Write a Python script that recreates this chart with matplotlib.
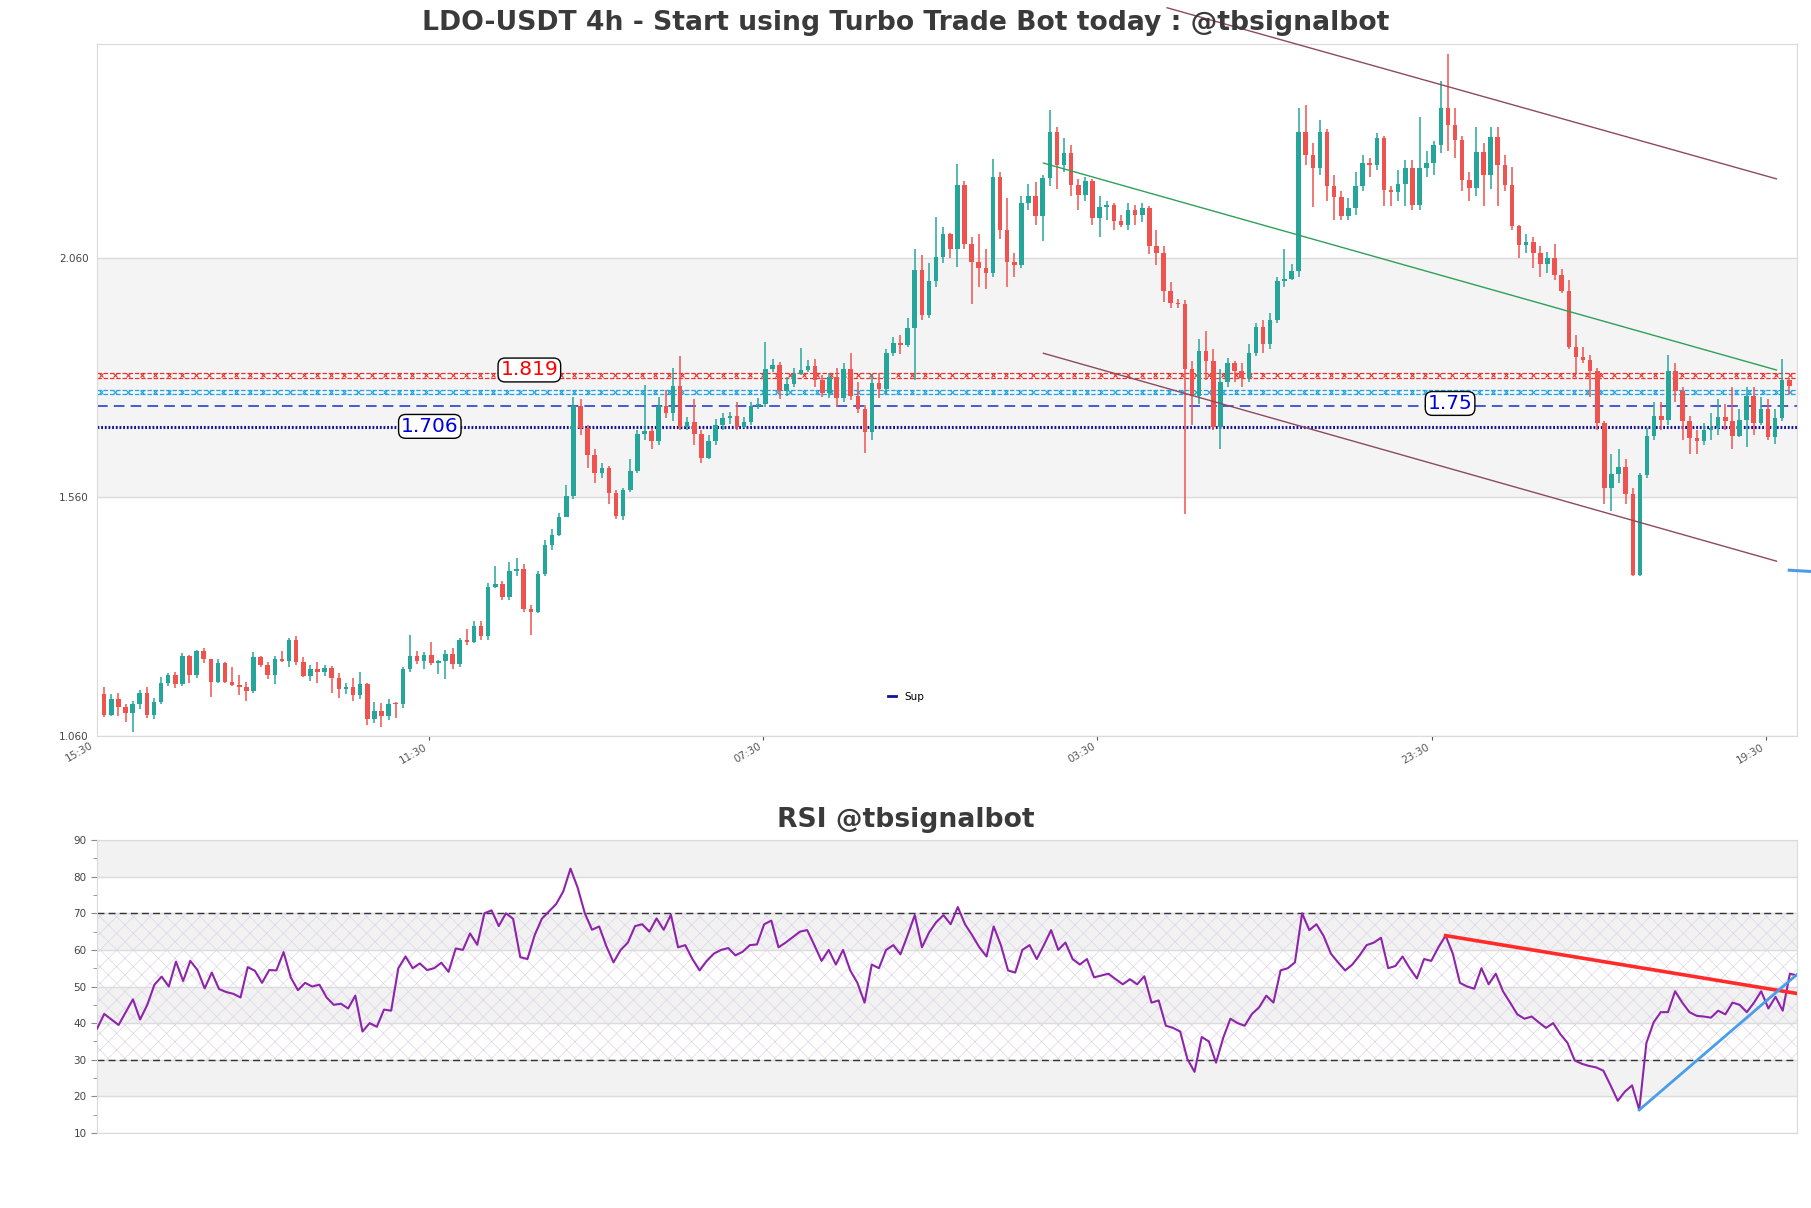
import matplotlib
matplotlib.use('Agg')
import matplotlib.pyplot as plt
from matplotlib.lines import Line2D
from matplotlib.ticker import FormatStrFormatter, MultipleLocator
import numpy as np

# ---------------- data ----------------
opens = [
1.149,1.104,1.137,1.120,1.109,1.128,1.150,1.104,1.132,1.171,
1.188,1.168,1.228,1.188,1.237,1.222,1.174,1.212,1.174,1.167,
1.162,1.154,1.225,1.209,1.188,1.222,1.218,1.262,1.214,1.186,
1.200,1.193,1.203,1.181,1.159,1.162,1.146,1.168,1.096,1.113,
1.102,1.128,1.126,1.200,1.228,1.216,1.230,1.212,1.216,1.232,
1.210,1.260,1.257,1.290,1.269,1.372,1.378,1.351,1.405,1.410,
1.325,1.320,1.400,1.459,1.480,1.518,1.562,1.751,1.705,1.649,
1.611,1.621,1.568,1.521,1.574,1.615,1.693,1.699,1.677,1.751,
1.736,1.793,1.707,1.718,1.693,1.641,1.678,1.711,1.725,1.730,
1.707,1.718,1.751,1.755,1.828,1.837,1.781,1.797,1.817,1.826,
1.835,1.805,1.777,1.811,1.767,1.828,1.772,1.744,1.697,1.798,
1.787,1.861,1.882,1.878,1.914,2.036,1.942,2.013,2.062,2.110,
2.079,2.213,2.090,2.052,2.040,2.030,2.230,2.120,2.052,2.045,
2.176,2.191,2.148,2.227,2.325,2.254,2.281,2.213,2.193,2.221,
2.144,2.167,2.172,2.137,2.130,2.160,2.150,2.165,2.085,2.070,
1.992,1.967,1.964,1.828,1.772,1.865,1.845,1.707,1.800,1.840,
1.824,1.809,1.861,1.917,1.880,1.930,2.012,2.017,2.034,2.325,
2.275,2.249,2.324,2.211,2.188,2.148,2.165,2.211,2.260,2.256,
2.312,2.202,2.199,2.216,2.249,2.172,2.249,2.260,2.296,2.375,
2.338,2.307,2.223,2.207,2.282,2.235,2.314,2.254,2.213,2.127,
2.088,2.093,2.071,2.048,2.060,2.024,1.992,1.875,1.854,1.847,
1.823,1.716,1.580,1.608,1.622,1.566,1.398,1.606,1.688,1.730,
1.722,1.823,1.781,1.720,1.683,1.677,1.700,1.705,1.727,1.720,
1.688,1.721,1.772,1.716,1.744,1.686,1.725,1.805]

highs = [
1.163,1.148,1.150,1.126,1.134,1.157,1.163,1.140,1.183,1.192,
1.195,1.233,1.230,1.240,1.245,1.222,1.222,1.214,1.204,1.188,
1.173,1.235,1.228,1.215,1.228,1.238,1.265,1.270,1.225,1.208,
1.215,1.209,1.206,1.192,1.172,1.181,1.194,1.171,1.132,1.130,
1.138,1.132,1.205,1.272,1.238,1.235,1.257,1.220,1.240,1.245,
1.266,1.285,1.300,1.300,1.380,1.415,1.385,1.425,1.432,1.420,
1.335,1.405,1.470,1.494,1.526,1.585,1.770,1.765,1.710,1.660,
1.632,1.625,1.575,1.580,1.640,1.700,1.794,1.705,1.770,1.785,
1.830,1.856,1.728,1.765,1.700,1.690,1.724,1.735,1.738,1.760,
1.728,1.760,1.768,1.884,1.850,1.842,1.812,1.830,1.873,1.846,
1.848,1.815,1.820,1.830,1.840,1.862,1.800,1.752,1.818,1.820,
1.870,1.895,1.900,1.934,2.080,2.067,2.050,2.146,2.125,2.112,
2.258,2.221,2.105,2.110,2.080,2.268,2.240,2.185,2.070,2.190,
2.215,2.220,2.235,2.370,2.335,2.311,2.296,2.225,2.230,2.225,
2.190,2.180,2.175,2.150,2.175,2.172,2.175,2.170,2.120,2.085,
2.010,1.975,1.972,1.845,1.890,1.908,1.870,1.828,1.852,1.845,
1.840,1.880,1.925,1.930,1.945,2.020,2.080,2.048,2.375,2.380,
2.300,2.350,2.330,2.235,2.200,2.185,2.240,2.275,2.270,2.322,
2.315,2.212,2.245,2.265,2.265,2.355,2.285,2.306,2.431,2.487,
2.375,2.315,2.240,2.334,2.300,2.334,2.334,2.275,2.250,2.130,
2.110,2.105,2.085,2.072,2.090,2.037,2.015,1.900,1.875,1.858,
1.830,1.720,1.650,1.660,1.640,1.580,1.610,1.705,1.760,1.760,
1.858,1.840,1.790,1.730,1.700,1.715,1.735,1.765,1.755,1.790,
1.745,1.790,1.790,1.770,1.765,1.745,1.850,1.810]

lows = [
1.099,1.101,1.101,1.089,1.069,1.116,1.098,1.096,1.128,1.164,
1.161,1.165,1.170,1.181,1.212,1.142,1.170,1.170,1.164,1.146,
1.133,1.150,1.205,1.179,1.168,1.215,1.204,1.208,1.184,1.176,
1.172,1.185,1.150,1.140,1.148,1.133,1.137,1.084,1.087,1.078,
1.094,1.098,1.118,1.195,1.210,1.200,1.208,1.190,1.180,1.200,
1.205,1.250,1.255,1.260,1.262,1.370,1.345,1.345,1.395,1.320,
1.272,1.318,1.395,1.450,1.478,1.530,1.555,1.690,1.620,1.590,
1.600,1.545,1.515,1.512,1.570,1.610,1.680,1.660,1.668,1.725,
1.720,1.700,1.700,1.670,1.632,1.640,1.670,1.700,1.712,1.700,
1.705,1.710,1.745,1.748,1.822,1.765,1.772,1.790,1.815,1.822,
1.790,1.770,1.768,1.748,1.760,1.764,1.735,1.652,1.680,1.768,
1.775,1.855,1.860,1.875,1.805,1.930,1.935,2.000,2.050,2.060,
2.041,2.080,1.964,2.000,1.995,2.020,2.100,2.000,2.020,2.040,
2.160,2.130,2.095,2.210,2.205,2.240,2.190,2.160,2.180,2.130,
2.105,2.140,2.118,2.125,2.120,2.130,2.135,2.068,2.045,1.968,
1.955,1.955,1.524,1.710,1.755,1.805,1.700,1.660,1.790,1.800,
1.790,1.800,1.855,1.862,1.870,1.925,2.000,2.015,2.020,2.255,
2.167,2.235,2.180,2.140,2.140,2.140,2.150,2.200,2.230,2.245,
2.170,2.170,2.180,2.170,2.160,2.160,2.230,2.235,2.280,2.285,
2.270,2.200,2.180,2.190,2.170,2.205,2.170,2.200,2.120,2.060,
2.070,2.040,2.020,2.030,2.015,1.988,1.870,1.820,1.840,1.770,
1.700,1.545,1.530,1.590,1.545,1.395,1.395,1.600,1.680,1.700,
1.710,1.760,1.680,1.650,1.650,1.670,1.680,1.690,1.700,1.660,
1.685,1.665,1.690,1.710,1.680,1.672,1.720,1.775]

closes = [
1.104,1.137,1.120,1.109,1.128,1.150,1.104,1.132,1.171,1.188,
1.168,1.228,1.188,1.237,1.222,1.174,1.212,1.174,1.167,1.162,
1.154,1.225,1.209,1.188,1.222,1.218,1.262,1.214,1.186,1.200,
1.193,1.203,1.181,1.159,1.162,1.146,1.168,1.096,1.113,1.102,
1.128,1.126,1.200,1.228,1.216,1.230,1.212,1.216,1.232,1.210,
1.260,1.257,1.290,1.269,1.372,1.378,1.351,1.405,1.410,1.325,
1.320,1.400,1.459,1.480,1.518,1.562,1.751,1.705,1.649,1.611,
1.621,1.568,1.521,1.574,1.615,1.693,1.699,1.677,1.751,1.736,
1.793,1.707,1.718,1.693,1.641,1.678,1.711,1.725,1.730,1.707,
1.718,1.751,1.755,1.828,1.837,1.781,1.797,1.817,1.826,1.835,
1.805,1.777,1.811,1.767,1.828,1.772,1.744,1.697,1.798,1.787,
1.861,1.882,1.878,1.914,2.036,1.942,2.013,2.062,2.110,2.079,
2.213,2.090,2.052,2.040,2.030,2.230,2.120,2.052,2.045,2.176,
2.191,2.148,2.227,2.325,2.254,2.281,2.213,2.193,2.221,2.144,
2.167,2.172,2.137,2.130,2.160,2.150,2.165,2.085,2.070,1.992,
1.967,1.964,1.828,1.772,1.865,1.845,1.707,1.800,1.840,1.824,
1.809,1.861,1.917,1.880,1.930,2.012,2.017,2.034,2.325,2.275,
2.249,2.324,2.211,2.188,2.148,2.165,2.211,2.260,2.256,2.312,
2.202,2.199,2.216,2.249,2.172,2.249,2.260,2.296,2.375,2.338,
2.307,2.223,2.207,2.282,2.235,2.314,2.254,2.213,2.127,2.088,
2.093,2.071,2.048,2.060,2.024,1.992,1.875,1.854,1.847,1.823,
1.716,1.580,1.608,1.622,1.566,1.398,1.606,1.688,1.730,1.722,
1.823,1.781,1.720,1.683,1.677,1.700,1.705,1.727,1.720,1.688,
1.721,1.772,1.716,1.744,1.686,1.725,1.805,1.793]

rsi = [
38.5,42.5,41.0,39.5,43.0,46.5,41.0,45.0,50.5,52.7,
50.0,56.8,51.5,57.0,54.5,49.5,53.8,49.3,48.5,48.0,
47.0,55.3,54.3,51.0,54.5,54.4,59.4,52.5,49.0,51.0,
50.0,50.5,47.0,45.0,45.3,44.0,47.5,37.7,40.0,39.0,
43.7,43.4,55.0,58.2,55.0,56.3,54.5,55.0,56.5,54.0,
60.4,60.0,64.5,61.4,70.0,70.8,66.5,70.0,68.5,58.0,
57.5,64.0,68.5,70.5,72.5,76.0,82.2,77.0,70.0,65.5,
66.4,61.0,56.6,60.0,62.0,66.5,67.0,65.0,68.6,65.5,
69.6,60.7,61.3,57.5,54.4,57.0,59.0,60.0,60.5,58.5,
59.5,61.3,61.5,67.0,68.0,60.7,62.0,63.5,65.0,65.4,
61.3,57.0,60.0,56.0,60.0,54.4,51.0,45.6,56.0,55.0,
60.0,61.3,58.8,64.0,69.5,60.7,64.8,67.6,69.5,67.0,
71.7,67.0,64.0,60.7,58.2,66.4,61.3,54.4,53.8,60.0,
61.3,57.5,61.3,65.4,60.0,62.0,57.5,56.0,57.5,52.5,
53.0,53.5,52.0,50.6,52.0,50.6,52.8,45.6,46.2,39.3,
38.7,37.7,30.2,26.7,36.2,35.0,29.2,36.0,41.2,40.0,
39.3,42.5,44.3,47.5,45.6,54.4,55.0,56.6,70.0,65.4,
67.0,63.8,59.0,56.6,54.4,56.0,58.5,61.3,62.0,63.3,
55.0,55.6,58.2,55.0,52.2,57.5,57.0,60.7,63.9,59.0,
51.0,50.0,49.4,55.0,50.6,53.5,48.7,45.6,42.4,41.2,
41.8,40.2,38.7,40.0,37.0,34.6,29.8,28.9,28.3,27.9,
27.0,23.0,18.8,21.3,23.0,16.3,34.6,40.2,43.0,43.0,
48.7,45.6,43.0,42.0,41.8,41.5,43.4,42.4,45.6,45.0,
43.0,45.6,48.7,44.0,47.2,43.4,53.5,53.0]

tick_labels = ['15:30', '11:30', '07:30', '03:30', '23:30', '19:30']
tick_pos = [-1.3, 45.7, 92.7, 139.7, 186.7, 233.7]

res_red = [1.809, 1.820]
res_cyan = [1.776, 1.784]
sup_dash = 1.75
sup_dot = 1.706
label_red = (59.8, 1.826, '1.819')
label_dot = (45.8, 1.708, '1.706')
label_dash = (189.3, 1.756, '1.75')

upper_ch_x = [149.5, 235.2]; upper_ch_y = [2.584, 2.226]
mid_ch_x = [132.1, 235.2]; mid_ch_y = [2.259, 1.826]
lower_ch_x = [132.1, 235.2]; lower_ch_y = [1.861, 1.426]
proj_x = [237.0, 240.5]; proj_y = [1.407, 1.404]

rsi_res_x = [188, 237]; rsi_res_y = [63.9, 48.1]
rsi_sup_x = [215, 237]; rsi_sup_y = [16.3, 53.3]

# ---------------- figure ----------------
plt.rcParams['hatch.linewidth'] = 0.5
fig = plt.figure(figsize=(18.11, 12.08), dpi=100)
ax = fig.add_axes([0.0536, 0.3907, 0.9387, 0.5728])
ax2 = fig.add_axes([0.0536, 0.0621, 0.9387, 0.2425])

n = len(closes)
x = np.arange(n)
o = np.array(opens); c = np.array(closes); h = np.array(highs); l = np.array(lows)
up = c >= o
col = np.where(up, '#26a69a', '#ef5350')

XL = (-1.0, 238.1)
ax.set_xlim(*XL)
ax.set_ylim(1.06, 2.508)
ax.axhspan(1.56, 2.06, color='#f4f4f4', zorder=0)
ax.yaxis.grid(True, color='#dcdcdc', lw=1, zorder=0.5)
ax.set_axisbelow(True)

ax.vlines(x, l, h, colors=col, linewidth=1.1, zorder=3)
ax.bar(x, np.maximum(np.abs(c - o), 0.003), bottom=np.minimum(o, c), width=0.64,
       color=col, linewidth=0, zorder=4)

# level lines
xm = np.arange(XL[0] + 0.6, XL[1], 1.9)
for pair, colr in [(res_red, '#e8342f'), (res_cyan, '#1fa3e0')]:
    for yv in pair:
        ax.plot(XL, [yv, yv], color=colr, lw=0.9, ls=(0, (3.5, 1.5)), zorder=2)
    mid = sum(pair) / 2
    ax.plot(xm, [mid] * len(xm), ls='none', marker='x', ms=3.5, mew=0.8, color=colr, zorder=2)
ax.plot(XL, [sup_dash, sup_dash], color='#1a2fc8', lw=1.1, ls=(0, (7, 4)), zorder=2)
ax.plot(XL, [sup_dot, sup_dot], color='#12129e', lw=2.2, ls=(0, (0.6, 0.6)), zorder=2)

bb = dict(boxstyle='round,pad=0.12,rounding_size=0.35', fc='white', ec='black', lw=1)
ax.text(label_red[0], label_red[1], label_red[2], color='red', fontsize=14.5, ha='center', va='center', bbox=bb, zorder=6)
ax.text(label_dot[0], label_dot[1], label_dot[2], color='#0000dd', fontsize=14.5, ha='center', va='center', bbox=bb, zorder=6)
ax.text(label_dash[0], label_dash[1], label_dash[2], color='#0000dd', fontsize=14.5, ha='center', va='center', bbox=bb, zorder=6)

# trend lines
ax.plot(upper_ch_x, upper_ch_y, color='#8d4a5e', lw=1.0, clip_on=False, zorder=5)
ax.plot(mid_ch_x, mid_ch_y, color='#2ea05a', lw=1.0, zorder=5)
ax.plot(lower_ch_x, lower_ch_y, color='#8d4a5e', lw=1.0, zorder=5)
ax.plot(proj_x, proj_y, color='#4d9be6', lw=2.2, clip_on=False, zorder=5)

ax.legend(handles=[Line2D([], [], color='#12129e', lw=2)], labels=['Sup'], loc='center',
          bbox_to_anchor=(0.476, 0.057), frameon=False, fontsize=7.5, handlelength=0.8)

ax.set_yticks([1.06, 1.56, 2.06])
ax.yaxis.set_major_formatter(FormatStrFormatter('%.3f'))
ax.tick_params(axis='y', length=0, labelsize=7.5, labelcolor='#444444', pad=6)
ax.set_xticks(tick_pos[1:])
ax.set_xticklabels(tick_labels[1:], rotation=30, ha='right', fontsize=7.5, color='#555555')
ax.tick_params(axis='x', length=3, color='#555555', pad=1)
ax.text(tick_pos[0], -0.006, tick_labels[0], transform=ax.get_xaxis_transform(), rotation=30,
        ha='right', va='top', fontsize=7.5, color='#555555', clip_on=False)
for s in ax.spines.values():
    s.set_color('#dadada')

# ---------------- RSI ----------------
ax2.set_xlim(0, n - 1)
ax2.set_ylim(10, 90)
for a, b in [(20, 30), (40, 50), (60, 70), (80, 90)]:
    ax2.axhspan(a, b, color='#f2f2f2', zorder=0)
ax2.fill_between([0, n - 1], 30, 70, facecolor='none', hatch='xx', edgecolor='#ddd5e6', lw=0, zorder=0.3)
ax2.yaxis.grid(True, color='#dcdcdc', lw=1, zorder=0.5)
ax2.set_axisbelow(True)
ax2.axhline(30, color='#333333', lw=1, ls=(0, (5, 3)), zorder=2)
ax2.axhline(70, color='#333333', lw=1, ls=(0, (5, 3)), zorder=2)
ax2.plot(x, rsi, color='#8e24aa', lw=1.5, zorder=3)
ax2.plot(rsi_res_x, rsi_res_y, color='#ff2a2a', lw=2.6, zorder=4)
ax2.plot(rsi_sup_x, rsi_sup_y, color='#4a9de8', lw=2.0, zorder=4)
ax2.set_xticks([])
ax2.set_yticks(np.arange(10, 91, 10))
ax2.yaxis.set_minor_locator(MultipleLocator(5))
ax2.tick_params(axis='y', which='major', length=4, color='#888888', labelsize=7.5, labelcolor='#444444')
ax2.tick_params(axis='y', which='minor', length=3, color='#888888')
for s in ax2.spines.values():
    s.set_color('#dadada')

fig.text(0.5, 1 - 23 / 1208, 'LDO-USDT 4h - Start using Turbo Trade Bot today : @tbsignalbot',
         ha='center', va='center', fontsize=19.2, fontweight='bold', color='#3a3a3a')
fig.text(0.5, 1 - 820 / 1208, 'RSI @tbsignalbot', ha='center', va='center',
         fontsize=19.2, fontweight='bold', color='#3a3a3a')

fig.savefig('out.png', dpi=100)
